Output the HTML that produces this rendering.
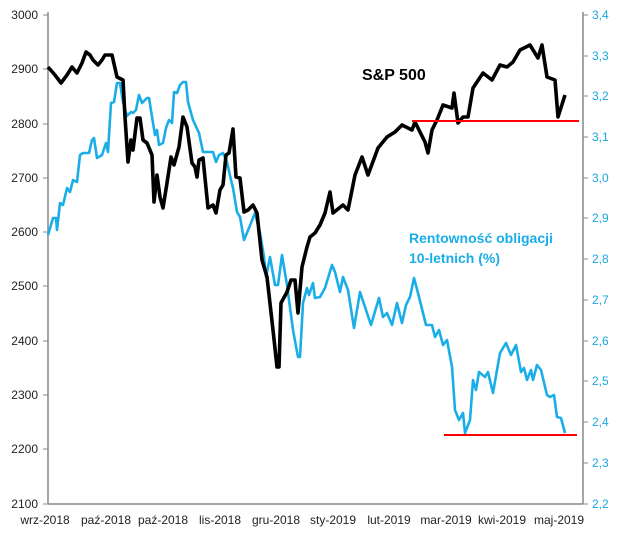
<!DOCTYPE html>
<html><head><meta charset="utf-8"><style>
body{margin:0;background:#fff}
svg text{font-family:"Liberation Sans",sans-serif}
</style></head><body>
<svg width="625" height="538" viewBox="0 0 625 538" xmlns="http://www.w3.org/2000/svg">
<rect width="625" height="538" fill="#fff"/>
<g stroke="#888" stroke-width="1.5" fill="none">
<line x1="48" y1="12" x2="48" y2="504"/>
<line x1="583" y1="12" x2="583" y2="504"/>
<line x1="48" y1="504" x2="583" y2="504"/>
</g>
<g stroke="#888" stroke-width="1">
<path d="M43 15h5M43 69h5M43 124h5M43 178h5M43 232h5M43 286h5M43 341h5M43 395h5M43 449h5M43 504h5"/>
<path d="M583 15h5M583 56h5M583 96h5M583 137h5M583 178h5M583 218h5M583 259h5M583 300h5M583 341h5M583 381h5M583 422h5M583 463h5M583 504h5"/>
</g>
<g font-size="12" fill="#222" text-anchor="end">
<text x="38" y="19">3000</text><text x="38" y="73">2900</text><text x="38" y="128">2800</text><text x="38" y="182">2700</text><text x="38" y="236">2600</text><text x="38" y="290">2500</text><text x="38" y="345">2400</text><text x="38" y="399">2300</text><text x="38" y="453">2200</text><text x="38" y="508">2100</text>
</g>
<g font-size="12" fill="#1aa7e0">
<text x="592" y="19">3,4</text><text x="592" y="60">3,3</text><text x="592" y="100">3,2</text><text x="592" y="141">3,1</text><text x="592" y="182">3,0</text><text x="592" y="222">2,9</text><text x="592" y="263">2,8</text><text x="592" y="304">2,7</text><text x="592" y="345">2,6</text><text x="592" y="385">2,5</text><text x="592" y="426">2,4</text><text x="592" y="467">2,3</text><text x="592" y="508">2,2</text>
</g>
<g font-size="12" fill="#222" text-anchor="middle">
<text x="45" y="524">wrz-2018</text><text x="106" y="524">paź-2018</text><text x="163" y="524">paź-2018</text><text x="220" y="524">lis-2018</text><text x="276" y="524">gru-2018</text><text x="333" y="524">sty-2019</text><text x="389" y="524">lut-2019</text><text x="446" y="524">mar-2019</text><text x="502" y="524">kwi-2019</text><text x="559" y="524">maj-2019</text>
</g>
<polyline fill="none" stroke="#1aaee8" stroke-width="2.6" stroke-linejoin="round" points="48,235 53,218 56,218 57,230 60,203 63,205 67,188 70,192 73,180 77,182 80,155 83,153 89,153 92,140 94,138 97,158 102,155 106,143 108,152 111,103 114,102 117,83 120,83 123,102 127,116 131,112 133,113 136,110 139,95 142,103 147,98 149,98 153,123 155,135 157,130 159,145 163,143 166,128 169,120 172,123 174,92 177,93 180,85 183,82 186,82 188,102 193,120 199,133 203,152 213,152 216,162 219,155 223,153 227,162 231,180 233,188 237,212 240,217 244,240 249,228 255,213 260,233 264,257 266,277 270,257 275,285 278,285 282,255 287,285 293,330 298,357 300,357 303,303 307,288 309,295 313,283 315,298 320,297 325,288 332,265 335,272 340,292 343,277 348,290 354,328 360,292 365,307 371,325 379,298 383,317 387,313 392,325 397,303 402,323 406,305 410,297 414,278 418,293 426,325 432,325 435,337 439,330 443,345 447,340 452,367 455,410 459,420 463,413 465,433 470,420 473,380 476,390 479,372 485,377 488,372 493,393 500,353 506,343 511,355 516,345 521,372 524,368 527,380 531,370 533,380 537,365 541,370 547,395 550,397 554,395 557,417 561,418 565,433"/>
<polyline fill="none" stroke="#000" stroke-width="3.6" stroke-linejoin="round" points="48,67 55,75 61,83 67,75 72,67 77,73 82,63 86,52 90,55 93,60 98,65 102,60 105,55 112,55 117,77 123,80 125,117 128,162 131,140 133,150 137,118 140,118 143,140 147,143 152,155 154,202 157,175 160,197 163,208 167,183 171,157 174,165 179,147 183,117 187,127 192,163 195,167 197,177 199,160 203,158 208,208 213,205 216,213 220,190 223,185 226,155 229,153 233,129 236,177 240,178 244,212 248,210 253,205 257,213 262,260 267,277 273,330 277,367 279,367 281,303 287,292 291,280 295,280 298,313 302,267 307,247 310,237 315,233 320,225 325,213 330,192 333,213 343,205 348,210 355,175 362,157 368,175 378,148 387,137 395,132 402,125 412,130 415,122 425,142 428,153 432,130 437,120 443,105 452,108 454,93 458,123 463,117 468,117 473,88 483,73 492,80 500,65 507,67 513,62 520,50 530,45 538,58 542,45 547,77 555,80 558,117 565,95"/>
<line x1="412" y1="121" x2="579" y2="121" stroke="#ff0000" stroke-width="2"/>
<line x1="444" y1="435" x2="577" y2="435" stroke="#ff0000" stroke-width="2"/>
<text x="362" y="80" font-size="16" font-weight="bold" fill="#000">S&amp;P 500</text>
<text x="409" y="243" font-size="14" font-weight="bold" fill="#1aaee8">Rentowność obligacji</text>
<text x="409" y="263" font-size="14" font-weight="bold" fill="#1aaee8">10-letnich (%)</text>
</svg>
</body></html>
